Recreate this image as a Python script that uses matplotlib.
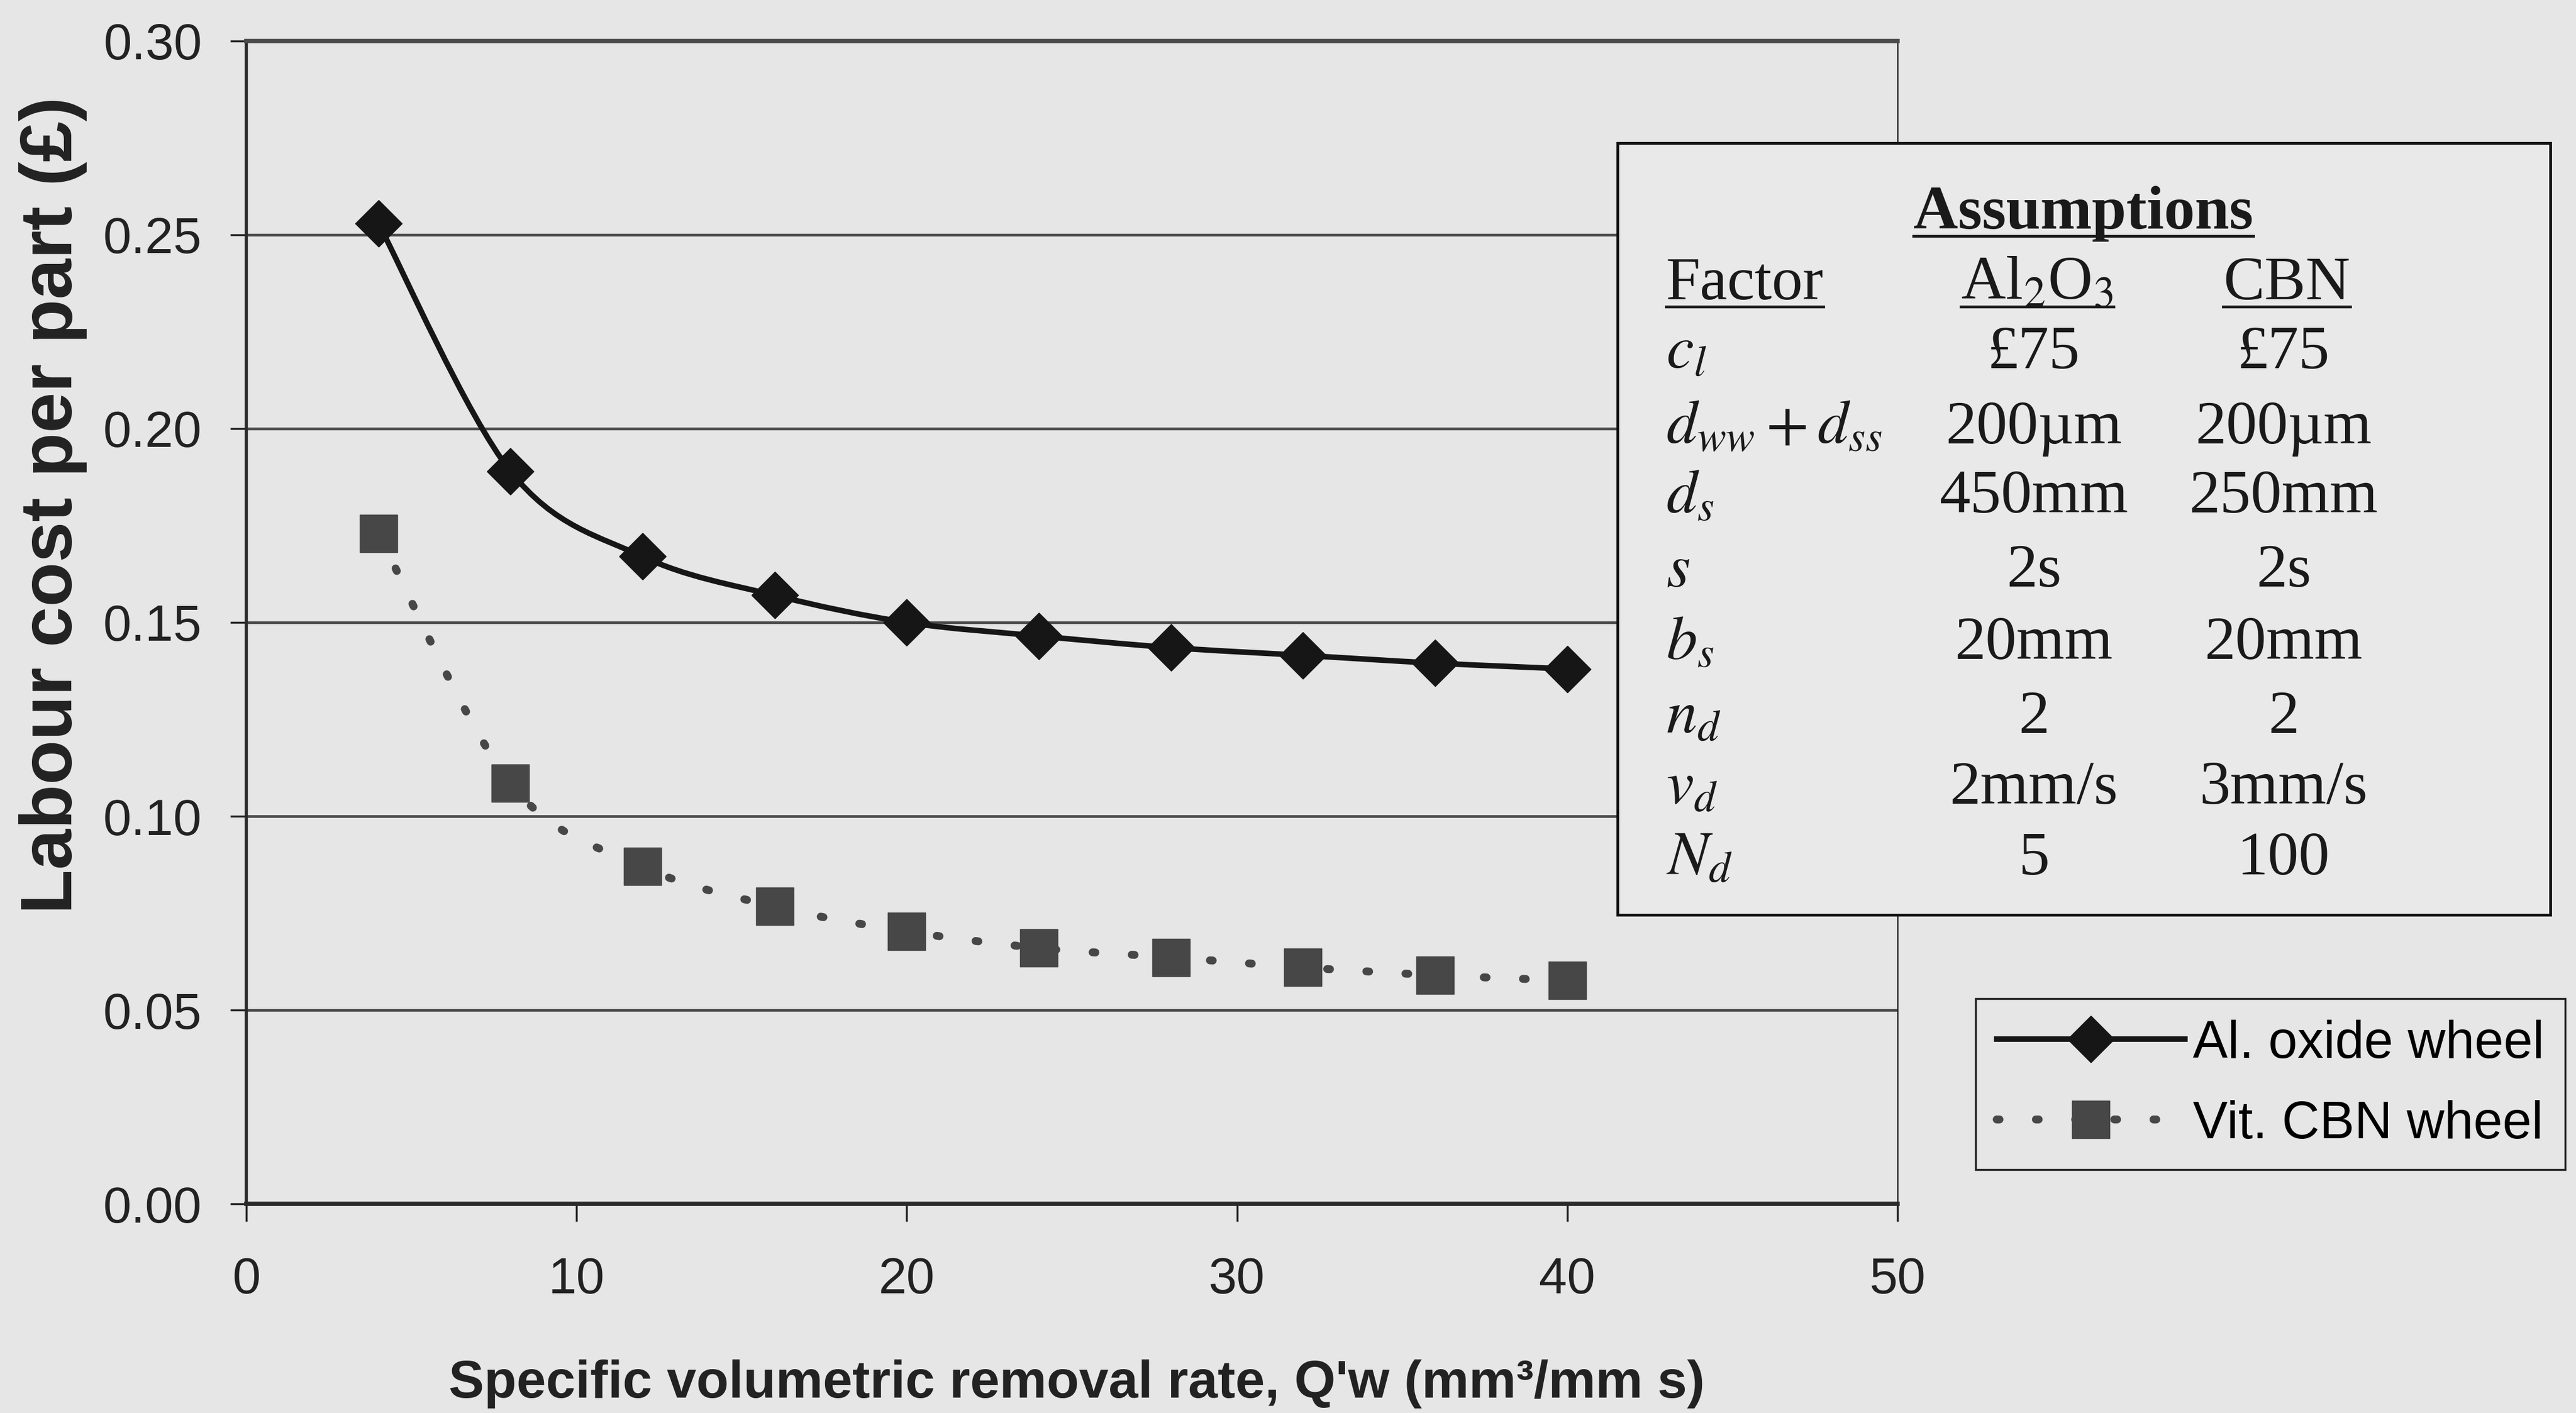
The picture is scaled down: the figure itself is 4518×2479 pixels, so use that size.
"""Labour cost per part vs specific removal rate, Al oxide vs vitrified CBN wheel."""

import matplotlib
matplotlib.use("Agg")
import matplotlib.pyplot as plt
from matplotlib import font_manager
from matplotlib.lines import Line2D
from matplotlib.patches import PathPatch, Rectangle
from matplotlib.path import Path
import numpy as np

# ---- data ----
q_w = [4, 8, 12, 16, 20, 24, 28, 32, 36, 40]
al_oxide = [0.253, 0.189, 0.167, 0.157, 0.150, 0.1465, 0.1435, 0.1415, 0.1395, 0.138]
vit_cbn = [0.173, 0.1085, 0.087, 0.0767, 0.0703, 0.066, 0.0636, 0.061, 0.059, 0.0576]

x_ticks = [0, 10, 20, 30, 40, 50]
y_ticks = [0.00, 0.05, 0.10, 0.15, 0.20, 0.25, 0.30]

# assumptions table
factors = [r"$c_l$", r"$d_{ww} + d_{ss}$", r"$d_s$", r"$s$", r"$b_s$", r"$n_d$", r"$v_d$", r"$N_d$"]
al2o3_vals = ["£75", "200µm", "450mm", "2s", "20mm", "2", "2mm/s", "5"]
cbn_vals = ["£75", "200µm", "250mm", "2s", "20mm", "2", "3mm/s", "100"]

BG = "#e6e6e6"
SERIF = "Liberation Serif"

# the scan squeezes the sans text sideways; a narrow face gets closest if we have one
installed = {f.name for f in font_manager.fontManager.ttflist}
if "Liberation Sans Narrow" in installed:
    SANS = "Liberation Sans Narrow"
    TICK_FS, XLAB_FS, LEG_FS = 74, 80, 76
else:
    SANS = "Liberation Sans"
    TICK_FS, XLAB_FS, LEG_FS = 64, 67, 66
YLAB_FS = 92

plt.rcParams["mathtext.fontset"] = "stix"


def smooth_path(xs, ys):
    """Catmull-Rom style bezier through the points (like Excel's smoothed line)."""
    pts = np.column_stack([xs, ys])
    n = len(pts)
    verts = [pts[0]]
    codes = [Path.MOVETO]
    for i in range(n - 1):
        p0 = pts[max(i - 1, 0)]
        p1 = pts[i]
        p2 = pts[i + 1]
        p3 = pts[min(i + 2, n - 1)]
        c1 = p1 + (p2 - p0) / 6.0
        c2 = p2 - (p3 - p1) / 6.0
        verts += [c1, c2, p2]
        codes += [Path.CURVE4] * 3
    return Path(verts, codes)


AL_COL = "#161616"
CBN_COL = "#474747"
DOTS = (0, (0.35, 4.6))

fig = plt.figure(figsize=(45.18, 24.79), dpi=100, facecolor=BG)
ax = fig.add_axes([0.0956, 0.148, 0.641, 0.823])
ax.set_facecolor(BG)

# gridlines
for yv in y_ticks[1:-1]:
    ax.axhline(yv, color="#4a4a4a", lw=3.4, zorder=1)

# al oxide series
ax.add_patch(PathPatch(smooth_path(q_w, al_oxide), fill=False, ec=AL_COL, lw=7, zorder=3))
ax.plot(q_w, al_oxide, ls="none", marker="D", ms=42, color=AL_COL, zorder=4)

# vit CBN series
cbn_curve = PathPatch(smooth_path(q_w, vit_cbn), fill=False, ec=CBN_COL, lw=10,
                      ls=DOTS, capstyle="round", zorder=3)
ax.add_patch(cbn_curve)
ax.plot(q_w, vit_cbn, ls="none", marker="s", ms=47, color=CBN_COL, zorder=4)

ax.set_xlim(0, 50)
ax.set_ylim(0, 0.30)
ax.set_xticks(x_ticks)
ax.set_yticks(y_ticks)
ax.set_yticklabels([f"{v:.2f}" for v in y_ticks])

for lab in ax.get_xticklabels() + ax.get_yticklabels():
    lab.set_fontfamily(SANS)
    lab.set_fontsize(TICK_FS)
    lab.set_color("#222222")

ax.tick_params(axis="x", direction="out", length=22, width=2.5, pad=44, colors="#222222")
ax.tick_params(axis="y", direction="out", length=20, width=2.5, pad=36, colors="#222222")

ax.spines["left"].set_linewidth(4)
ax.spines["left"].set_color("#2a2a2a")
ax.spines["bottom"].set_linewidth(5.5)
ax.spines["bottom"].set_color("#2a2a2a")
ax.spines["top"].set_linewidth(5.5)
ax.spines["top"].set_color("#4a4a4a")
ax.spines["right"].set_linewidth(1.8)
ax.spines["right"].set_color("#2a2a2a")

ax.set_xlabel("Specific volumetric removal rate, Q'w (mm³/mm s)", fontsize=XLAB_FS,
              fontweight="bold", fontfamily=SANS, color="#222222", va="center")
ax.xaxis.set_label_coords(0.503, -0.155)
ax.set_ylabel("Labour cost per part (£)", fontsize=YLAB_FS, fontweight="bold",
              fontfamily="Liberation Sans", color="#222222", va="center")
ax.yaxis.set_label_coords(-0.117, 0.601)

# legend
handles = [
    Line2D([], [], color=AL_COL, lw=7, marker="D", ms=42, mfc=AL_COL, mec=AL_COL),
    Line2D([], [], color=CBN_COL, lw=10, ls=DOTS, dash_capstyle="round", marker="s",
           ms=47, mfc=CBN_COL, mec=CBN_COL),
]
leg = fig.legend(handles, ["Al. oxide wheel", "Vit. CBN wheel"], loc="upper left",
                 bbox_to_anchor=(0.767, 0.2933), borderaxespad=0, frameon=True,
                 fancybox=False, facecolor=BG, edgecolor="#222222", framealpha=1,
                 prop={"family": SANS, "size": LEG_FS}, handlelength=3.6,
                 handletextpad=0.15, labelspacing=0.6, borderpad=0.4)
leg.get_frame().set_linewidth(2.5)

# assumptions box
fig.patches.append(Rectangle((0.628, 0.3526), 0.362, 0.5461, transform=fig.transFigure,
                             fc="#e9e9e9", ec="#111111", lw=3.5, zorder=5))


def fx(px):
    return px / 1568.0


def fy(py):
    return 1.0 - py / 860.0


txt_kw = dict(fontfamily=SERIF, fontsize=78, color="#1a1a1a", zorder=6)
underlined = []
underlined.append(fig.text(fx(1268), fy(130), "Assumptions", ha="center", va="center",
                           fontweight="bold", **txt_kw))
underlined.append(fig.text(fx(1014), fy(173), "Factor", ha="left", va="center", **txt_kw))
underlined.append(fig.text(fx(1240), fy(173), r"Al$_2$O$_3$", ha="center", va="center", **txt_kw))
underlined.append(fig.text(fx(1392), fy(173), "CBN", ha="center", va="center", **txt_kw))

row_y = [215, 261, 303, 348, 392, 437, 480, 523]
for ry, f, a, c in zip(row_y, factors, al2o3_vals, cbn_vals):
    fig.text(fx(1014), fy(ry), f, ha="left", va="center", **txt_kw)
    fig.text(fx(1238), fy(ry), a, ha="center", va="center", **txt_kw)
    fig.text(fx(1390), fy(ry), c, ha="center", va="center", **txt_kw)

# underline the headers
fig.canvas.draw()
inv = fig.transFigure.inverted()
for t in underlined:
    bb = t.get_window_extent()
    (x0, y0), (x1, _) = inv.transform([[bb.x0, bb.y0], [bb.x1, bb.y1]])
    fig.add_artist(Line2D([x0, x1], [y0 + 0.004, y0 + 0.004], transform=fig.transFigure,
                          color="#1a1a1a", lw=3.5, zorder=6))

fig.savefig("out.png", dpi=100, facecolor=BG)
